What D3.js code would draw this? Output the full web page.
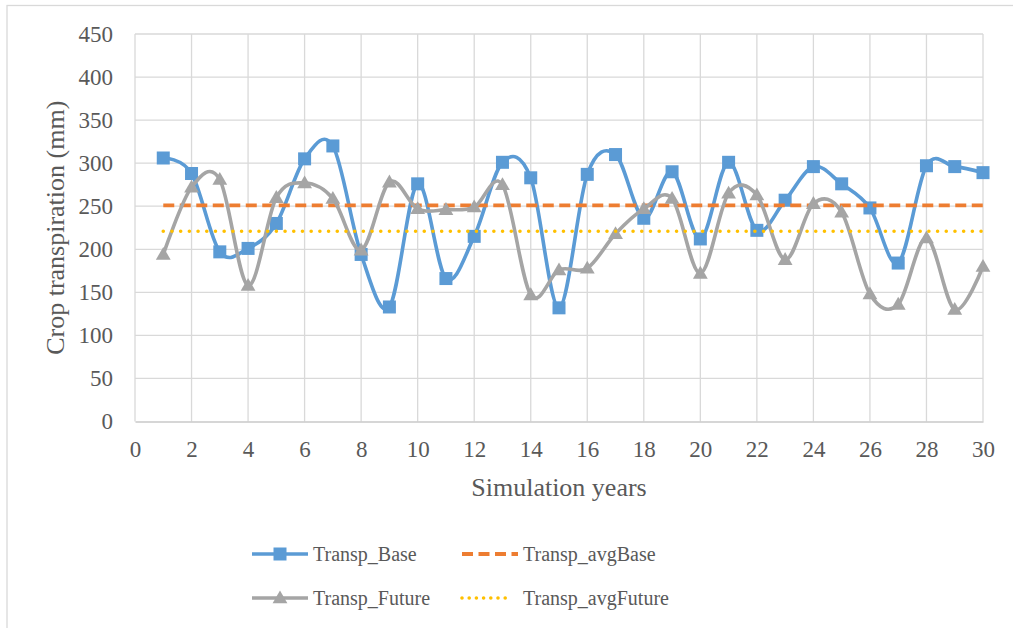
<!DOCTYPE html>
<html>
<head>
<meta charset="utf-8">
<script src="https://cdn.jsdelivr.net/npm/d3@7"></script>
<style>
  html, body { margin: 0; padding: 0; background: #ffffff; }
  svg text { font-family: "Liberation Serif", "Times New Roman", Tinos, "DejaVu Serif", serif; }
</style>
</head>
<body>
<svg id="chart" width="1013" height="628"></svg>
<script>
// Simulation years 1..30
const years = d3.range(1, 31);

// Crop transpiration (mm) per simulated year
const transpBase = [306, 288, 197, 201, 230, 305, 320, 194, 133, 276,
                    166, 215, 301, 283, 132, 287, 310, 236, 290, 212,
                    301, 222, 257, 296, 276, 248, 184, 297, 296, 289];
const transpFuture = [194, 272, 281, 158, 260, 277, 259, 199, 278, 247,
                      246, 249, 275, 147, 176, 178, 218, 247, 259, 172,
                      265, 263, 188, 253, 243, 148, 136, 213, 130, 180];

// Long-term averages (mm)
const transpAvgBase = 251;
const transpAvgFuture = 221;

// Axis ticks
const xTicks = d3.range(0, 31, 2);
const yTicks = d3.range(0, 451, 50);

const seriesNames = ["Transp_Base", "Transp_avgBase", "Transp_Future", "Transp_avgFuture"];
const colors = { base: "#5B9BD5", avgBase: "#ED7D31", future: "#A5A5A5", avgFuture: "#FFC000" };
const textColor = "#595959";
const gridColor = "#D9D9D9";
const serif = '"Liberation Serif", "Times New Roman", Tinos, "DejaVu Serif", serif';

const svg = d3.select("#chart");

// Chart frame
svg.append("rect")
  .attr("x", 7).attr("y", 5.5)
  .attr("width", 1020).attr("height", 640)
  .attr("fill", "#fff")
  .attr("stroke", "#D9D9D9").attr("stroke-width", 1.3);

const x = d3.scaleLinear().domain([0, 30]).range([135, 983]);
const y = d3.scaleLinear().domain([0, 450]).range([421.5, 34]);

// Gridlines
const grid = svg.append("g");
grid.selectAll("line.h").data(yTicks.filter(d => d > 0)).join("line")
  .attr("x1", x(0)).attr("x2", x(30))
  .attr("y1", d => y(d)).attr("y2", d => y(d))
  .attr("stroke", gridColor).attr("stroke-width", 1.3);
grid.selectAll("line.v").data(xTicks).join("line")
  .attr("x1", d => x(d)).attr("x2", d => x(d))
  .attr("y1", y(0)).attr("y2", y(450))
  .attr("stroke", gridColor).attr("stroke-width", 1.3);

// Axes
const xAxis = svg.append("g")
  .attr("transform", `translate(0,${y(0)})`)
  .call(d3.axisBottom(x).tickValues(xTicks).tickSize(0).tickPadding(19));
xAxis.select(".domain").attr("stroke", "#C8C8C8").attr("stroke-width", 1.5);

const yAxis = svg.append("g")
  .attr("transform", `translate(${x(0)},0)`)
  .call(d3.axisLeft(y).tickValues(yTicks).tickSize(0).tickPadding(22));
yAxis.select(".domain").remove();

svg.selectAll("g").attr("font-family", null);
svg.selectAll(".tick text")
  .attr("fill", textColor)
  .attr("font-family", serif)
  .attr("font-size", 23);

// Axis titles
svg.append("text")
  .attr("x", (x(0) + x(30)) / 2).attr("y", 496)
  .attr("text-anchor", "middle")
  .attr("font-family", serif)
  .attr("fill", textColor).attr("font-size", 26)
  .text("Simulation years");

svg.append("text")
  .attr("transform", `translate(64,${(y(0) + y(450)) / 2}) rotate(-90)`)
  .attr("text-anchor", "middle")
  .attr("font-family", serif)
  .attr("fill", textColor).attr("font-size", 26)
  .text("Crop transpiration (mm)");

const smooth = d3.line()
  .x((d, i) => x(years[i]))
  .y(d => y(d))
  .curve(d3.curveCatmullRom.alpha(0));

const triangle = d3.symbol().type(d3.symbolTriangle).size(95);

// Transp_Base
svg.append("path")
  .datum(transpBase)
  .attr("d", smooth)
  .attr("fill", "none")
  .attr("stroke", colors.base).attr("stroke-width", 3.6)
  .attr("stroke-linejoin", "round").attr("stroke-linecap", "round");
svg.append("g").selectAll("rect").data(transpBase).join("rect")
  .attr("x", (d, i) => x(years[i]) - 6.5)
  .attr("y", d => y(d) - 6.5)
  .attr("width", 13).attr("height", 13)
  .attr("fill", colors.base);

// Transp_avgBase
svg.append("line")
  .attr("x1", x(years[0])).attr("x2", x(years[years.length - 1]))
  .attr("y1", y(transpAvgBase)).attr("y2", y(transpAvgBase))
  .attr("stroke", colors.avgBase).attr("stroke-width", 3.8)
  .attr("stroke-dasharray", "11 5.5");

// Transp_Future
svg.append("path")
  .datum(transpFuture)
  .attr("d", smooth)
  .attr("fill", "none")
  .attr("stroke", colors.future).attr("stroke-width", 3.6)
  .attr("stroke-linejoin", "round").attr("stroke-linecap", "round");
svg.append("g").selectAll("path").data(transpFuture).join("path")
  .attr("d", triangle)
  .attr("transform", (d, i) => `translate(${x(years[i])},${y(d) + 1})`)
  .attr("fill", colors.future);

// Transp_avgFuture
svg.append("line")
  .attr("x1", x(years[0])).attr("x2", x(years[years.length - 1]))
  .attr("y1", y(transpAvgFuture)).attr("y2", y(transpAvgFuture))
  .attr("stroke", colors.avgFuture).attr("stroke-width", 3.6)
  .attr("stroke-linecap", "round")
  .attr("stroke-dasharray", "0 8.7");

// Legend
const legendItems = [
  { name: seriesNames[0], color: colors.base, kind: "square", x: 252, y: 554 },
  { name: seriesNames[1], color: colors.avgBase, kind: "dash", x: 462, y: 554 },
  { name: seriesNames[2], color: colors.future, kind: "triangle", x: 252, y: 598 },
  { name: seriesNames[3], color: colors.avgFuture, kind: "dot", x: 462, y: 598 }
];
const legend = svg.append("g");
legendItems.forEach(it => {
  const g = legend.append("g").attr("transform", `translate(${it.x},${it.y})`);
  const line = g.append("line").attr("x1", 0).attr("x2", 56).attr("y1", 0).attr("y2", 0)
    .attr("stroke", it.color).attr("stroke-width", 3.6);
  if (it.kind === "square") {
    g.append("rect").attr("x", 28 - 6.5).attr("y", -6.5).attr("width", 13).attr("height", 13)
      .attr("fill", it.color);
  } else if (it.kind === "triangle") {
    g.append("path").attr("d", triangle).attr("transform", "translate(28,1)").attr("fill", it.color);
  } else if (it.kind === "dash") {
    line.attr("stroke-dasharray", "11 5.5").attr("stroke-width", 3.8);
  } else {
    line.attr("x2", 50).attr("stroke-linecap", "round").attr("stroke-dasharray", "0 7.2");
  }
  g.append("text")
    .attr("x", 61)
    .attr("dy", "0.35em")
    .attr("font-family", serif)
    .attr("fill", textColor).attr("font-size", 20)
    .text(it.name);
});
</script>
</body>
</html>
